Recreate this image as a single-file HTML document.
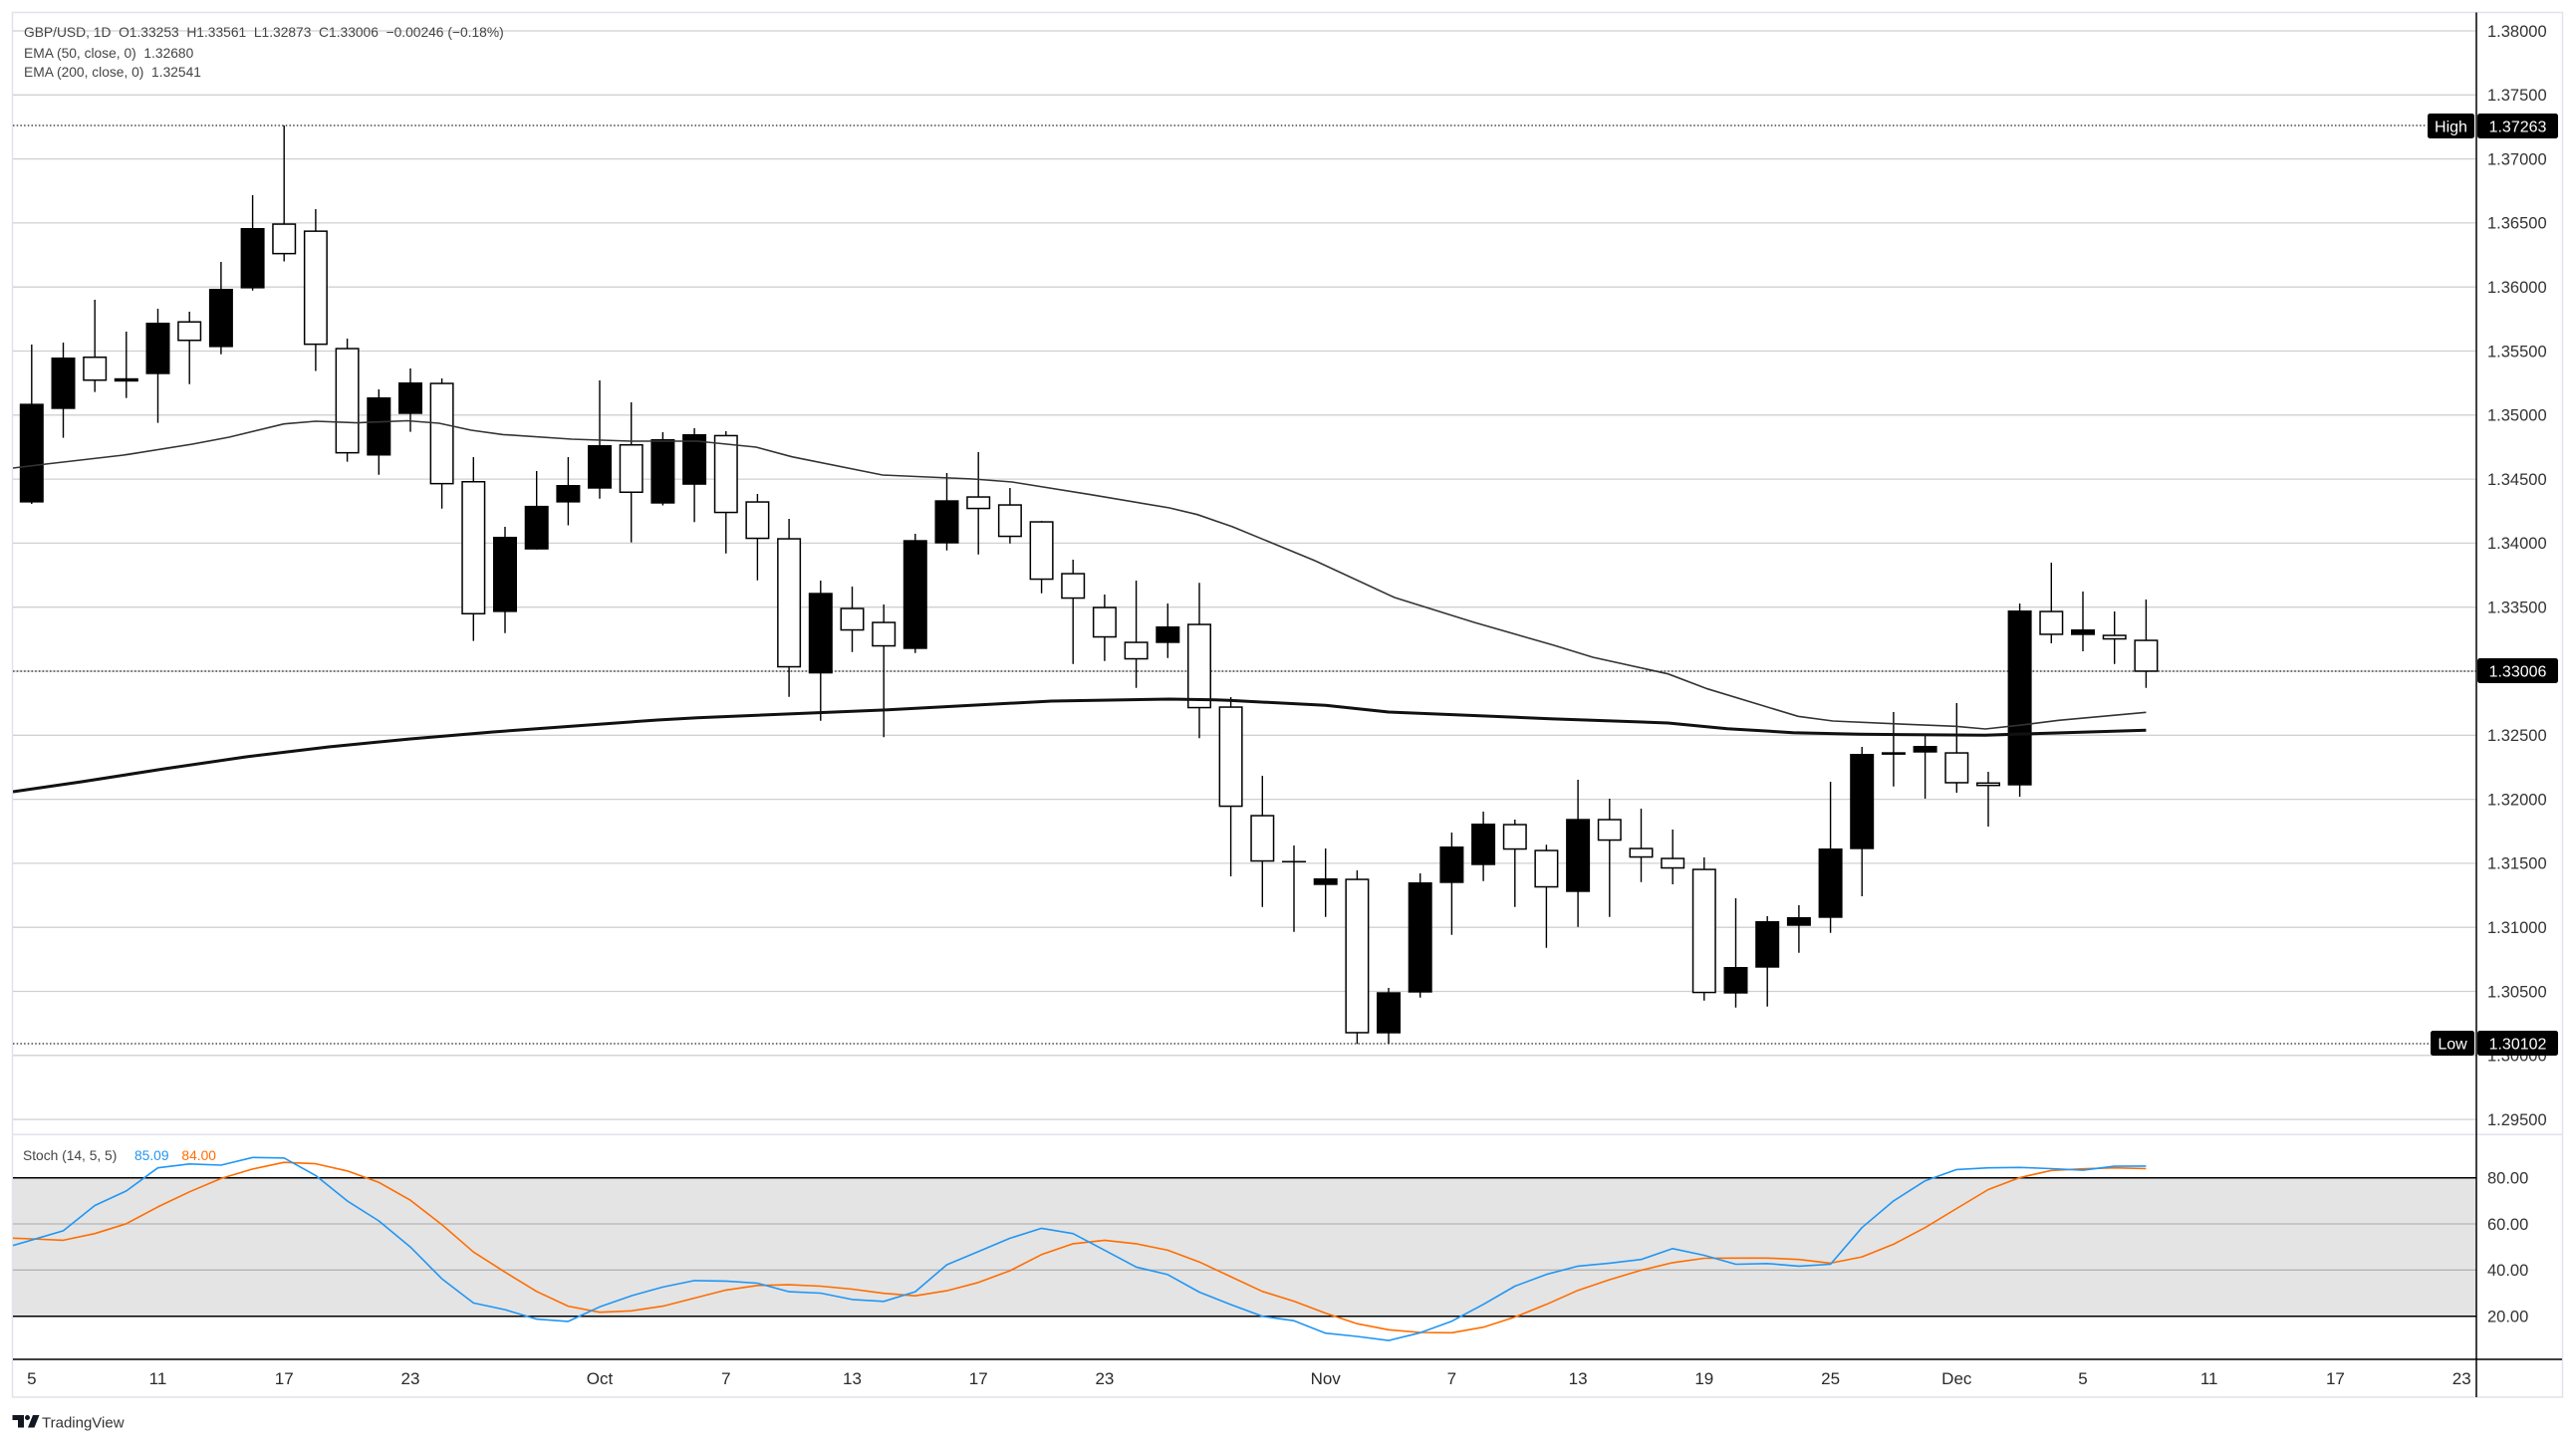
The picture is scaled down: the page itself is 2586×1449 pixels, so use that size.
<!DOCTYPE html>
<html><head><meta charset="utf-8"><style>
html,body{margin:0;padding:0;background:#fff;}
body{width:2586px;height:1449px;overflow:hidden;position:relative;}
svg{position:absolute;left:0;top:0;}
text{font-family:"Liberation Sans",Arial,sans-serif;}
</style></head><body>
<svg width="2586" height="1449" viewBox="0 0 2586 1449" xmlns="http://www.w3.org/2000/svg">
<defs>
<clipPath id="cm"><rect x="13" y="13" width="2473" height="1125"/></clipPath>
<clipPath id="cs"><rect x="13" y="1140" width="2473" height="225"/></clipPath>
</defs>
<rect x="0" y="0" width="2586" height="1449" fill="#fff"/>
<!-- outer border -->
<rect x="12.5" y="12.5" width="2560" height="1390.5" fill="none" stroke="#e0e3eb" stroke-width="1.5"/>
<!-- main gridlines -->
<g stroke="#d0d0d0" stroke-width="1.3">
<line x1="13" y1="31" x2="2486" y2="31"/><line x1="13" y1="95.3" x2="2486" y2="95.3"/><line x1="13" y1="159.6" x2="2486" y2="159.6"/><line x1="13" y1="223.9" x2="2486" y2="223.9"/><line x1="13" y1="288.2" x2="2486" y2="288.2"/><line x1="13" y1="352.5" x2="2486" y2="352.5"/><line x1="13" y1="416.8" x2="2486" y2="416.8"/><line x1="13" y1="481.1" x2="2486" y2="481.1"/><line x1="13" y1="545.4" x2="2486" y2="545.4"/><line x1="13" y1="609.7" x2="2486" y2="609.7"/><line x1="13" y1="674" x2="2486" y2="674"/><line x1="13" y1="738.3" x2="2486" y2="738.3"/><line x1="13" y1="802.6" x2="2486" y2="802.6"/><line x1="13" y1="866.9" x2="2486" y2="866.9"/><line x1="13" y1="931.2" x2="2486" y2="931.2"/><line x1="13" y1="995.5" x2="2486" y2="995.5"/><line x1="13" y1="1059.8" x2="2486" y2="1059.8"/><line x1="13" y1="1124.1" x2="2486" y2="1124.1"/>
</g>
<!-- dotted lines -->
<g stroke="#222" stroke-width="1.3" stroke-dasharray="1.5,2.2">
<line x1="13" y1="126" x2="2436" y2="126"/>
<line x1="13" y1="674" x2="2486" y2="674"/>
<line x1="13" y1="1048" x2="2439" y2="1048"/>
</g>
<g clip-path="url(#cm)">
<!-- wicks -->
<path fill="none" stroke="#000" stroke-width="1.4" d="M31.8 346V506M63.5 344V439.6M95.2 301V393.6M126.8 333V399.6M158.5 310V424.6M190.2 313V385.7M221.9 263V355.7M253.6 196V291.8M285.2 126V262.5M316.9 210V372.5M348.6 340V463.6M380.3 391V476.8M412 370V433.6M443.6 380V510.7M475.3 459V643.6M507 529V635.7M538.7 473V551.8M570.4 459V527.5M602 382V500.7M633.7 404V544.6M665.4 434V507.5M697.1 430V524.3M728.8 433V555.7M760.4 496V582.7M792.1 521V699.7M823.8 583V723.7M855.5 589V654.7M887.2 607V740.3M918.8 536V655.7M950.5 475V552.7M982.2 454V556.7M1013.9 490V545.7M1045.6 523V595.7M1077.2 562V666.7M1108.9 597V663.7M1140.6 583V690.7M1172.3 606V660.7M1204 585.3V741.3M1235.6 700V880M1267.3 779V910.7M1299 849V935.7M1330.7 852V920.7M1362.4 874V1048.3M1394 992V1048.3M1425.7 877V1001.7M1457.4 836V938.7M1489.1 815V884.7M1520.8 823V910.7M1552.4 848.3V951.7M1584.1 783V930.7M1615.8 802V920.7M1647.5 812V885.7M1679.2 833V888M1710.8 861V1004.7M1742.5 902V1011.7M1774.2 920V1010.7M1805.9 909V956.7M1837.6 785V936.7M1869.2 750V900M1900.9 715V789.7M1932.6 736.7V802M1964.3 706V796M1996 775V830M2027.6 606V800M2059.3 565V646M2091 594V654M2122.7 614V666.7M2154.4 602V690.7"/>
<!-- black bodies -->
<g fill="#000">
<rect x="19.8" y="405.4" width="24" height="99.2"/>
<rect x="51.5" y="359" width="24" height="51.7"/>
<rect x="114.8" y="379.8" width="24" height="3.4"/>
<rect x="146.5" y="324" width="24" height="51.7"/>
<rect x="209.9" y="290" width="24" height="58.6"/>
<rect x="241.6" y="229" width="24" height="60.6"/>
<rect x="368.3" y="399" width="24" height="58.5"/>
<rect x="400" y="384" width="24" height="31.7"/>
<rect x="495" y="539" width="24" height="75.6"/>
<rect x="526.7" y="507.9" width="24" height="43.9"/>
<rect x="558.4" y="487" width="24" height="17.6"/>
<rect x="590" y="447" width="24" height="43.7"/>
<rect x="653.4" y="441" width="24" height="64.7"/>
<rect x="685.1" y="436" width="24" height="50.8"/>
<rect x="811.8" y="595.3" width="24" height="81"/>
<rect x="906.8" y="542.3" width="24" height="109.4"/>
<rect x="938.5" y="502.3" width="24" height="43.4"/>
<rect x="1160.3" y="629" width="24" height="16.7"/>
<rect x="1318.7" y="882" width="24" height="6.7"/>
<rect x="1382" y="996.3" width="24" height="41.4"/>
<rect x="1413.7" y="886" width="24" height="110.7"/>
<rect x="1445.4" y="850" width="24" height="36.7"/>
<rect x="1477.1" y="827" width="24" height="41.7"/>
<rect x="1572.1" y="822.3" width="24" height="73.4"/>
<rect x="1730.5" y="971" width="24" height="26.7"/>
<rect x="1762.2" y="925" width="24" height="46.7"/>
<rect x="1793.9" y="921" width="24" height="8.7"/>
<rect x="1825.6" y="852" width="24" height="69.7"/>
<rect x="1857.2" y="757" width="24" height="95.7"/>
<rect x="1888.9" y="755.3" width="24" height="2.6"/>
<rect x="1920.6" y="749" width="24" height="6.7"/>
<rect x="2015.6" y="613" width="24" height="175.7"/>
<rect x="2079" y="632" width="24" height="5.7"/>
</g>
<!-- hollow bodies -->
<g fill="#fff" stroke="#000" stroke-width="1.5">
<rect x="83.95" y="358.75" width="22.5" height="23"/>
<rect x="178.95" y="323.25" width="22.5" height="18.5"/>
<rect x="273.95" y="225.05" width="22.5" height="29.6"/>
<rect x="305.65" y="232.15" width="22.5" height="113.5"/>
<rect x="337.35" y="350.05" width="22.5" height="104.6"/>
<rect x="432.35" y="385.05" width="22.5" height="100.6"/>
<rect x="464.05" y="483.75" width="22.5" height="132.5"/>
<rect x="622.45" y="446.75" width="22.5" height="47.5"/>
<rect x="717.55" y="437.45" width="22.5" height="77.1"/>
<rect x="749.15" y="504.05" width="22.5" height="36.5"/>
<rect x="780.85" y="541.05" width="22.5" height="128.5"/>
<rect x="844.25" y="611.05" width="22.5" height="21.5"/>
<rect x="875.95" y="625.05" width="22.5" height="23.5"/>
<rect x="970.95" y="499.05" width="22.5" height="11.5"/>
<rect x="1002.65" y="507.05" width="22.5" height="31.5"/>
<rect x="1034.35" y="524.05" width="22.5" height="57.5"/>
<rect x="1065.95" y="576.05" width="22.5" height="24.5"/>
<rect x="1097.65" y="610.05" width="22.5" height="29.5"/>
<rect x="1129.35" y="645.05" width="22.5" height="16.5"/>
<rect x="1192.75" y="627.05" width="22.5" height="83.5"/>
<rect x="1224.35" y="710.05" width="22.5" height="99.5"/>
<rect x="1256.05" y="819.05" width="22.5" height="45.5"/>
<rect x="1351.15" y="883.05" width="22.5" height="153.9"/>
<rect x="1509.55" y="828.05" width="22.5" height="24.5"/>
<rect x="1541.15" y="854.05" width="22.5" height="36.5"/>
<rect x="1604.55" y="823.05" width="22.5" height="20.5"/>
<rect x="1636.25" y="852.05" width="22.5" height="8.5"/>
<rect x="1667.95" y="862.05" width="22.5" height="9.5"/>
<rect x="1699.55" y="873.05" width="22.5" height="123.5"/>
<rect x="1953.05" y="756.05" width="22.5" height="29.9"/>
<rect x="1984.75" y="786.3" width="22.5" height="2.4"/>
<rect x="2048.05" y="614.05" width="22.5" height="22.9"/>
<rect x="2111.45" y="638.05" width="22.5" height="3.5"/>
<rect x="2143.15" y="643.05" width="22.5" height="30.9"/>
</g>
<line x1="1287" y1="865.3" x2="1311" y2="865.3" stroke="#000" stroke-width="1.5"/>
<!-- EMAs -->
<polyline fill="none" stroke="#333" stroke-width="1.6" points="13,470 46,466 124,457 193,446 230,439 285,425.7 317,423 358,424.6 408.6,422.5 440.8,425 473,432 505,436.4 574,441 633.6,443 700,443 759,449 795,458.7 886,477 977,481 1016,484 1095,496.7 1174,510 1202,516.7 1237.5,529 1320,563 1400,600 1480,625 1560,648 1599,660 1674.5,676.7 1714,691.7 1805,719.3 1840,724 1900,726.7 1963,729.3 1993,732 2026.7,728.3 2066.7,723.3 2154.4,715.3"/>
<polyline fill="none" stroke="#111" stroke-width="3" stroke-linejoin="round" points="13,795 82,785 165,772 247,760 330,750 412,742 495,735 577,729 660,723 700,720.7 886,713 1055.7,704 1174,702 1220,702.7 1233.6,703.3 1330.7,708.3 1394,715 1556,721.7 1674.5,726 1734,731.7 1800,735.7 1866.7,737.3 1993,738.3 2040,736.7 2154.4,733.3"/>
</g>
<!-- header legend -->
<g fill="#444" font-size="13.8">
<text x="24" y="37" xml:space="preserve" style="white-space:pre">GBP/USD, 1D  O1.33253  H1.33561  L1.32873  C1.33006  −0.00246 (−0.18%)</text>
<text x="24" y="58" xml:space="preserve" style="white-space:pre">EMA (50, close, 0)  1.32680</text>
<text x="24" y="77" xml:space="preserve" style="white-space:pre">EMA (200, close, 0)  1.32541</text>
</g>
<!-- pane separator -->
<line x1="13" y1="1139.3" x2="2572" y2="1139.3" stroke="#e0e3eb" stroke-width="1.5"/>
<!-- stoch pane -->
<rect x="13" y="1182.7" width="2473" height="139" fill="#e4e4e4"/>
<g stroke="#b3b3b3" stroke-width="1.3">
<line x1="13" y1="1229" x2="2486" y2="1229"/>
<line x1="13" y1="1275.3" x2="2486" y2="1275.3"/>
</g>
<g stroke="#000" stroke-width="1.5">
<line x1="13" y1="1182.7" x2="2486" y2="1182.7"/>
<line x1="13" y1="1321.7" x2="2486" y2="1321.7"/>
</g>
<g clip-path="url(#cs)" fill="none" stroke-width="1.6" stroke-linejoin="round">
<polyline stroke="#ff6d00" points="0.1,1242.9 31.8,1244.0 63.5,1245.4 95.2,1238.7 126.8,1228.8 158.5,1211.9 190.2,1196.8 221.9,1183.4 253.6,1173.9 285.2,1167.2 316.9,1168.6 348.6,1175.8 380.3,1187.3 412.0,1205.2 443.6,1229.7 475.3,1257.2 507.0,1277.4 538.7,1296.8 570.4,1311.6 602.0,1317.7 633.7,1316.3 665.4,1311.6 697.1,1303.5 728.8,1295.4 760.4,1290.8 792.1,1290.1 823.8,1291.5 855.5,1294.5 887.2,1298.7 918.8,1301.2 950.5,1296.1 982.2,1287.8 1013.9,1276.0 1045.6,1259.8 1077.2,1248.9 1108.9,1245.4 1140.6,1248.9 1172.3,1255.4 1204.0,1267.2 1235.6,1282.0 1267.3,1296.8 1299.0,1306.6 1330.7,1318.6 1362.4,1329.2 1394.0,1335.3 1425.7,1338.0 1457.4,1338.3 1489.1,1332.7 1520.8,1322.5 1552.4,1309.8 1584.1,1295.7 1615.8,1285.0 1647.5,1275.5 1679.2,1267.9 1710.8,1263.5 1742.5,1263.3 1774.2,1263.3 1805.9,1264.7 1837.6,1268.4 1869.2,1262.1 1900.9,1249.4 1932.6,1232.7 1964.3,1213.5 1996.0,1194.5 2027.6,1182.5 2059.3,1175.3 2091.0,1173.7 2122.7,1172.7 2154.4,1173.5"/>
<polyline stroke="#2196f3" points="0.1,1254.5 31.8,1245.2 63.5,1235.9 95.2,1210.5 126.8,1195.9 158.5,1172.7 190.2,1168.8 221.9,1170.0 253.6,1162.3 285.2,1162.8 316.9,1180.4 348.6,1205.9 380.3,1226.0 412.0,1252.2 443.6,1284.1 475.3,1308.4 507.0,1315.1 538.7,1324.6 570.4,1326.9 602.0,1312.3 633.7,1301.2 665.4,1292.4 697.1,1285.9 728.8,1286.4 760.4,1288.5 792.1,1297.1 823.8,1298.5 855.5,1304.9 887.2,1306.8 918.8,1297.1 950.5,1270.0 982.2,1256.8 1013.9,1243.4 1045.6,1233.4 1077.2,1238.7 1108.9,1255.4 1140.6,1272.3 1172.3,1279.9 1204.0,1297.5 1235.6,1310.0 1267.3,1321.8 1299.0,1326.2 1330.7,1338.7 1362.4,1342.0 1394.0,1346.1 1425.7,1338.3 1457.4,1326.7 1489.1,1309.8 1520.8,1291.5 1552.4,1279.7 1584.1,1271.4 1615.8,1268.4 1647.5,1264.7 1679.2,1253.8 1710.8,1260.5 1742.5,1269.5 1774.2,1268.8 1805.9,1271.4 1837.6,1269.5 1869.2,1232.7 1900.9,1205.9 1932.6,1185.7 1964.3,1174.4 1996.0,1172.7 2027.6,1172.3 2059.3,1173.5 2091.0,1175.1 2122.7,1171.1 2154.4,1170.9"/>
</g>
<g font-size="13.8">
<text x="23" y="1165" fill="#444">Stoch (14, 5, 5)</text>
<text x="135" y="1165" fill="#2196f3">85.09</text>
<text x="182.4" y="1165" fill="#ff6d00">84.00</text>
</g>
<!-- x axis -->
<line x1="13" y1="1365" x2="2572" y2="1365" stroke="#000" stroke-width="1.5"/>
<line x1="2486" y1="12.5" x2="2486" y2="1403" stroke="#000" stroke-width="1.5"/>
<g fill="#2a2a2a" font-size="17" text-anchor="middle">
<text x="31.8" y="1390">5</text>
<text x="158.5" y="1390">11</text>
<text x="285.2" y="1390">17</text>
<text x="412" y="1390">23</text>
<text x="602" y="1390">Oct</text>
<text x="728.8" y="1390">7</text>
<text x="855.5" y="1390">13</text>
<text x="982.2" y="1390">17</text>
<text x="1108.9" y="1390">23</text>
<text x="1330.7" y="1390">Nov</text>
<text x="1457.4" y="1390">7</text>
<text x="1584.1" y="1390">13</text>
<text x="1710.8" y="1390">19</text>
<text x="1837.6" y="1390">25</text>
<text x="1964.3" y="1390">Dec</text>
<text x="2091" y="1390">5</text>
<text x="2217.7" y="1390">11</text>
<text x="2344.4" y="1390">17</text>
<text x="2471.2" y="1390">23</text>
</g>
<!-- price axis labels -->
<g fill="#333" font-size="16.5">
<text x="2497" y="36.8">1.38000</text>
<text x="2497" y="101.1">1.37500</text>
<text x="2497" y="165.4">1.37000</text>
<text x="2497" y="229.7">1.36500</text>
<text x="2497" y="294">1.36000</text>
<text x="2497" y="358.3">1.35500</text>
<text x="2497" y="422.6">1.35000</text>
<text x="2497" y="486.9">1.34500</text>
<text x="2497" y="551.2">1.34000</text>
<text x="2497" y="615.5">1.33500</text>
<text x="2497" y="744.1">1.32500</text>
<text x="2497" y="808.4">1.32000</text>
<text x="2497" y="872.7">1.31500</text>
<text x="2497" y="937">1.31000</text>
<text x="2497" y="1001.3">1.30500</text>
<text x="2497" y="1065.6">1.30000</text>
<text x="2497" y="1129.9">1.29500</text>
<text x="2497" y="1188.5">80.00</text>
<text x="2497" y="1234.8">60.00</text>
<text x="2497" y="1281.1">40.00</text>
<text x="2497" y="1327.5">20.00</text>
</g>
<!-- price tags -->
<g fill="#000">
<rect x="2437" y="114" width="47" height="25" rx="2.5"/>
<rect x="2487" y="114" width="81" height="25" rx="2.5"/>
<rect x="2487" y="661" width="81" height="25" rx="2.5"/>
<rect x="2440" y="1035" width="44" height="25" rx="2.5"/>
<rect x="2487" y="1035" width="81" height="25" rx="2.5"/>
</g>
<g fill="#fff" font-size="16" text-anchor="middle">
<text x="2460.5" y="132.3">High</text>
<text x="2527.5" y="132.3">1.37263</text>
<text x="2527.5" y="679.3">1.33006</text>
<text x="2462" y="1053.3">Low</text>
<text x="2527.5" y="1053.3">1.30102</text>
</g>
<!-- TradingView logo -->
<g fill="#131722">
<rect x="12.5" y="1421" width="11.5" height="5"/>
<rect x="18" y="1421" width="6" height="12.5"/>
<circle cx="27.5" cy="1423.5" r="2.5"/>
<polygon points="33,1421 39.5,1421 34.5,1433.5 28,1433.5"/>
</g>
<text x="42" y="1433.3" fill="#333" font-size="15">TradingView</text>
</svg>
</body></html>
